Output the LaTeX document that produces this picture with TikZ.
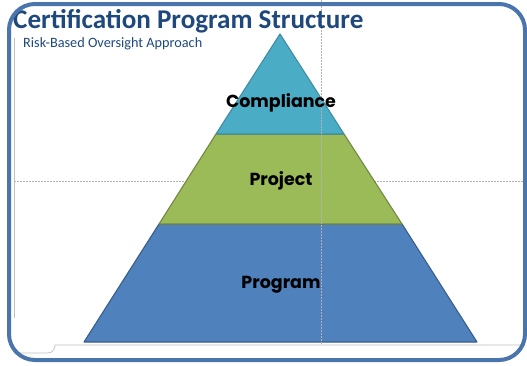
\documentclass[tikz,border=0pt]{standalone}
\usepackage{fontspec}
\setmainfont{Carlito}
\newfontfamily\labfont{Poppins}
\usetikzlibrary{calc}
\definecolor{titleblue}{HTML}{1F497D}
\definecolor{framecol}{HTML}{4A74AC}
\definecolor{compfill}{HTML}{4BACC6}
\definecolor{compline}{HTML}{3C8DA3}
\definecolor{projfill}{HTML}{9BBB59}
\definecolor{projline}{HTML}{71893F}
\definecolor{progfill}{HTML}{4F81BD}
\definecolor{progline}{HTML}{385D8A}
\tikzset{
  band/.style={line width=1.1bp, line join=round},
  lab/.style={font=\labfont\bfseries\fontsize{17.5}{19}\selectfont, text=black, inner sep=0pt},
  guide/.style={draw=black!30, dashed, dash pattern=on 1.5bp off 1.5bp, line width=0.5bp},
  thin/.style={draw=black!25, line width=0.7bp}
}
\begin{document}
\begin{tikzpicture}[x=1bp,y=-1bp]
\useasboundingbox (0,0) rectangle (527,365);
\fill[white] (0,0) rectangle (527,365);
% guides
\draw[guide] (14,181) -- (527,181);
% inner thin frame
\draw[thin] (14,38) -- (14,318);
\draw[thin] (14,353) -- (48,353) to[out=0,in=-90] (55,345) -- (521,345);
% pyramid
\coordinate (apex) at (280,34);
\coordinate (c1) at (216,134);
\coordinate (c2) at (344,134);
\coordinate (p1) at (159,224);
\coordinate (p2) at (402,224);
\coordinate (g1) at (84,342);
\coordinate (g2) at (477,342);
\filldraw[band, fill=progfill, draw=progline] (p1) -- (p2) -- (g2) -- (g1) -- cycle;
\filldraw[band, fill=projfill, draw=projline] (c1) -- (c2) -- (p2) -- (p1) -- cycle;
\filldraw[band, fill=compfill, draw=compline] (apex) -- (c2) -- (c1) -- cycle;
\draw[guide] (321,0) -- (321,345);
\node[lab] (comp) at (281,103) {Compliance};
\node[lab] (proj) at (281,181) {Project};
\node[lab] (prog) at (281,284.5) {Program};
% titles
\node[anchor=base west, inner sep=0pt, text=titleblue, font=\bfseries\fontsize{27.2}{29}\selectfont] (title) at (13,28) {Certification Program Structure};
\node[anchor=base west, inner sep=0pt, text=titleblue, font=\fontsize{14.3}{16}\selectfont] (sub) at (23,47) {Risk-Based Oversight Approach};
% outer frame
\draw[framecol, line width=4bp, rounded corners=26bp] (9,4) rectangle (525,360);
\end{tikzpicture}
\end{document}
